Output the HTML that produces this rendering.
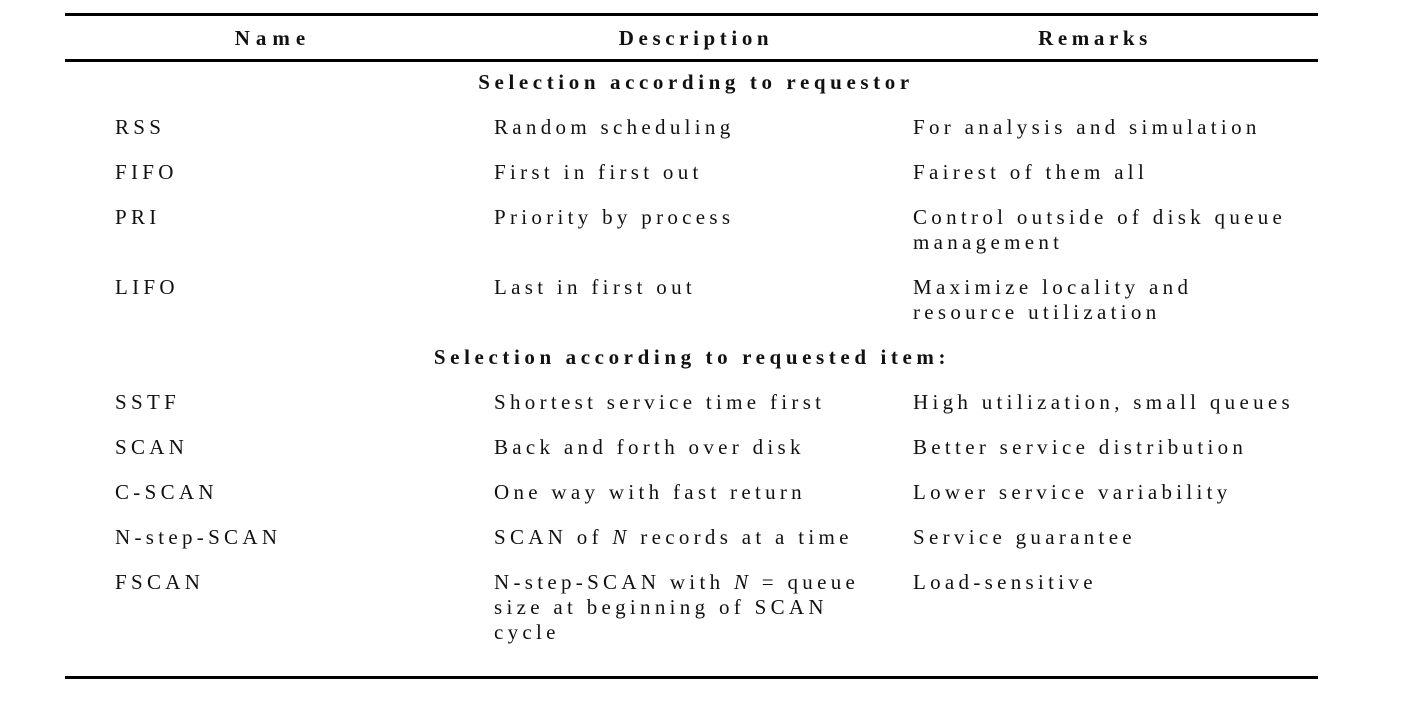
<!DOCTYPE html>
<html><head><meta charset="utf-8"><style>
body{margin:0;width:1414px;height:718px;background:#fff;position:relative;overflow:hidden;font-family:"Liberation Serif",serif;color:#111}
.l{position:absolute;left:65px;width:1253px;height:3px;background:#000}
.t{position:absolute;font-size:21px;letter-spacing:4.3px;white-space:nowrap;line-height:25px}
.b{font-weight:bold;letter-spacing:4.6px}
.c{transform:translateX(-50%)}
</style></head><body>
<div class="l" style="top:13px"></div>
<div class="l" style="top:59px"></div>
<div class="l" style="top:676px"></div>
<div class="t b c" style="left:273px;top:26px;letter-spacing:6px">Name</div>
<div class="t b c" style="left:696px;top:26px">Description</div>
<div class="t b c" style="left:1095px;top:26px">Remarks</div>
<div class="t b c" style="left:696px;top:70px">Selection according to requestor</div>
<div class="t b c" style="left:692px;top:345px">Selection according to requested item:</div>

<div class="t" style="left:115px;top:115px">RSS</div>
<div class="t" style="left:494px;top:115px">Random scheduling</div>
<div class="t" style="left:913px;top:115px">For analysis and simulation</div>

<div class="t" style="left:115px;top:160px">FIFO</div>
<div class="t" style="left:494px;top:160px">First in first out</div>
<div class="t" style="left:913px;top:160px">Fairest of them all</div>

<div class="t" style="left:115px;top:205px">PRI</div>
<div class="t" style="left:494px;top:205px">Priority by process</div>
<div class="t" style="left:913px;top:205px">Control outside of disk queue</div>
<div class="t" style="left:913px;top:230px">management</div>

<div class="t" style="left:115px;top:275px">LIFO</div>
<div class="t" style="left:494px;top:275px">Last in first out</div>
<div class="t" style="left:913px;top:275px">Maximize locality and</div>
<div class="t" style="left:913px;top:300px">resource utilization</div>

<div class="t" style="left:115px;top:390px">SSTF</div>
<div class="t" style="left:494px;top:390px">Shortest service time first</div>
<div class="t" style="left:913px;top:390px">High utilization, small queues</div>

<div class="t" style="left:115px;top:435px">SCAN</div>
<div class="t" style="left:494px;top:435px">Back and forth over disk</div>
<div class="t" style="left:913px;top:435px">Better service distribution</div>

<div class="t" style="left:115px;top:480px">C-SCAN</div>
<div class="t" style="left:494px;top:480px">One way with fast return</div>
<div class="t" style="left:913px;top:480px">Lower service variability</div>

<div class="t" style="left:115px;top:525px">N-step-SCAN</div>
<div class="t" style="left:494px;top:525px">SCAN of <i>N</i> records at a time</div>
<div class="t" style="left:913px;top:525px">Service guarantee</div>

<div class="t" style="left:115px;top:570px">FSCAN</div>
<div class="t" style="left:494px;top:570px">N-step-SCAN with <i>N</i> = queue</div>
<div class="t" style="left:494px;top:595px">size at beginning of SCAN</div>
<div class="t" style="left:494px;top:620px">cycle</div>
<div class="t" style="left:913px;top:570px">Load-sensitive</div>
</body></html>
